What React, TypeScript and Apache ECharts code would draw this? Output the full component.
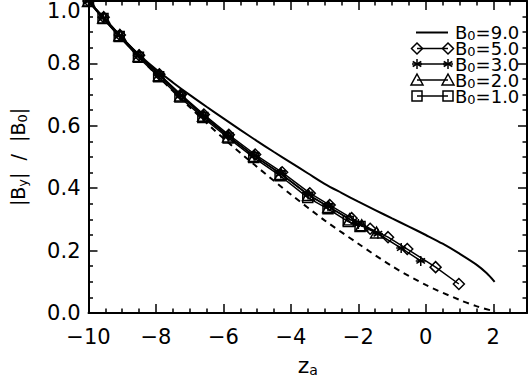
import React, { useEffect, useRef } from 'react';
import * as echarts from 'echarts';

// ---- data ----
const xB1 = [-10, -9.57, -9.09, -8.52, -7.92, -7.29, -6.61, -5.86, -5.1, -4.32, -3.5, -2.9, -2.3, -1.95];
const yB1 = [1.0, 0.944, 0.886, 0.82, 0.757, 0.692, 0.627, 0.561, 0.498, 0.44, 0.37, 0.334, 0.293, 0.277];

const xB2 = [-10, -9.55, -9.07, -8.5, -7.9, -7.27, -6.59, -5.85, -5.08, -4.3, -3.48, -2.88, -2.26, -1.9, -1.46];
const yB2 = [1.0, 0.947, 0.89, 0.824, 0.762, 0.697, 0.632, 0.566, 0.503, 0.446, 0.378, 0.34, 0.3, 0.281, 0.258];

const xB3 = [-10, -9.56, -9.08, -8.5, -7.9, -7.27, -6.6, -5.86, -5.09, -4.3, -3.49, -2.9, -2.0, -1.42, -0.73, -0.15];
const yB3 = [1.0, 0.946, 0.889, 0.824, 0.762, 0.697, 0.632, 0.567, 0.504, 0.447, 0.38, 0.342, 0.285, 0.254, 0.208, 0.167];

const xB5 = [-10, -9.55, -9.07, -8.5, -7.9, -7.26, -6.58, -5.84, -5.06, -4.26, -3.44, -2.85, -2.2, -1.65, -1.12, -0.55, 0.29, 0.98];
const yB5 = [1.0, 0.948, 0.891, 0.826, 0.765, 0.7, 0.636, 0.571, 0.508, 0.451, 0.384, 0.346, 0.304, 0.27, 0.243, 0.205, 0.147, 0.093];

const xB9 = [-10, -9.5, -9, -8.5, -8, -7.5, -7, -6.5, -6, -5.5, -5, -4.5, -4, -3.5, -3, -2.5, -2, -1.5, -1, -0.5, 0, 0.5, 1, 1.5, 1.8, 2.04];
const yB9 = [1.0, 0.937, 0.88, 0.828, 0.781, 0.739, 0.699, 0.661, 0.624, 0.587, 0.551, 0.516, 0.482, 0.448, 0.414, 0.385, 0.357, 0.33, 0.303, 0.277, 0.25, 0.222, 0.19, 0.155, 0.128, 0.1];

const xDash = [-10, -9, -8, -7, -6, -5, -4, -3, -2, -1, 0, 1, 1.5, 2, 2.05];
const yDash = [1.0, 0.878, 0.765, 0.66, 0.56, 0.468, 0.38, 0.297, 0.222, 0.15, 0.09, 0.042, 0.022, 0.006, 0.004];

const legendLabels = ['9.0', '5.0', '3.0', '2.0', '1.0'];
const xTicks = { min: -10, max: 3, interval: 2 };
const yTicks = { min: 0, max: 1, interval: 0.2 };

const FONT = "'DejaVu Sans', 'Liberation Sans', Arial, sans-serif";
const BLACK = '#000';
const ASTERISK = 'path://M5,0L5,10M0.7,2.5L9.3,7.5M0.7,7.5L9.3,2.5M0,5L10,5';

const pairs = (xs: number[], ys: number[]) => xs.map((x, i) => [x, ys[i]]);
const fmtMinus = (s: string) => s.replace('-', '\u2212');

export default function App() {
  const ref = useRef<HTMLDivElement>(null);

  useEffect(() => {
    if (!ref.current) return;
    const chart = echarts.init(ref.current, null, { renderer: 'svg' });

    const axisCommon: any = {
      type: 'value',
      axisLine: { show: true, onZero: false, lineStyle: { color: BLACK, width: 2 } },
      axisTick: { show: true, inside: true, length: 9, lineStyle: { color: BLACK, width: 1.5 } },
      minorTick: { show: true, splitNumber: 4, length: 4.5, lineStyle: { color: BLACK, width: 1.5 } },
      splitLine: { show: false },
      minorSplitLine: { show: false },
    };

    const symStyle = { color: 'rgba(0,0,0,0)', borderColor: BLACK, borderWidth: 1.5 };
    const markerSeries = (name: string, xs: number[], ys: number[], symbol: string, size: any) => ({
      name,
      type: 'line',
      data: pairs(xs, ys),
      symbol,
      symbolSize: size,
      showSymbol: true,
      lineStyle: { color: BLACK, width: 1.5 },
      itemStyle: symStyle,
      emphasis: { disabled: true },
      z: 3,
    });

    // legend drawn as graphic
    const rowsY = [32.5, 48.5, 64, 80, 96];
    const lx0 = 417;
    const lx1 = 448;
    const legendGraphics: any[] = [];
    const stroke = { fill: 'none', stroke: BLACK, lineWidth: 1.5 };
    const drawSym = (kind: string, cx: number, cy: number) => {
      if (kind === 'rect') {
        legendGraphics.push({ type: 'rect', shape: { x: cx - 5, y: cy - 5, width: 10, height: 10 }, style: stroke });
      } else if (kind === 'triangle') {
        legendGraphics.push({ type: 'polygon', shape: { points: [[cx, cy - 6], [cx + 6, cy + 5], [cx - 6, cy + 5]] }, style: stroke });
      } else if (kind === 'diamond') {
        legendGraphics.push({ type: 'polygon', shape: { points: [[cx, cy - 5.5], [cx + 5.5, cy], [cx, cy + 5.5], [cx - 5.5, cy]] }, style: stroke });
      } else if (kind === 'asterisk') {
        const r = 5;
        [[0, -r, 0, r], [-r, 0, r, 0], [-4.3, -2.5, 4.3, 2.5], [-4.3, 2.5, 4.3, -2.5]].forEach(([a, b, c, d]) => {
          legendGraphics.push({ type: 'line', shape: { x1: cx + a, y1: cy + b, x2: cx + c, y2: cy + d }, style: { stroke: BLACK, lineWidth: 1.5 } });
        });
      }
    };
    const kinds = ['none', 'diamond', 'asterisk', 'triangle', 'rect'];
    rowsY.forEach((cy, i) => {
      const k = kinds[i];
      legendGraphics.push({
        type: 'line',
        shape: { x1: k === 'none' ? lx0 - 1 : lx0, y1: cy, x2: lx1, y2: cy },
        style: { stroke: BLACK, lineWidth: k === 'none' ? 2 : 1.5 },
      });
      if (k !== 'none') {
        drawSym(k, lx0, cy);
        drawSym(k, lx1, cy);
      }
      legendGraphics.push({
        type: 'text',
        x: 455,
        y: cy,
        style: {
          text: '{b|B}{s|0}{b|=' + legendLabels[i] + '}',
          verticalAlign: 'middle',
          align: 'left',
          fill: BLACK,
          rich: {
            b: { fontSize: 18, lineHeight: 15, fontFamily: FONT, fill: BLACK },
            s: { fontSize: 13, lineHeight: 9, fontFamily: FONT, fill: BLACK, padding: [6, 0, 0, 0] },
          },
        },
      });
    });

    const option: any = {
      animation: false,
      backgroundColor: '#fff',
      grid: { left: 82, right: 2, top: 1, bottom: 65, containLabel: false },
      xAxis: [
        {
          ...axisCommon,
          position: 'bottom',
          ...xTicks,
          axisLabel: {
            show: true,
            color: BLACK,
            fontSize: 21,
            fontFamily: FONT,
            margin: 13,
            formatter: (v: number) => (Math.abs(v % 2) < 1e-9 ? fmtMinus(String(v)) : ''),
          },
          name: '{z|z}{s|a}',
          nameLocation: 'middle',
          nameGap: 41,
          nameTextStyle: {
            rich: {
              z: { fontSize: 22, fontFamily: FONT, color: BLACK },
              s: { fontSize: 14, fontFamily: FONT, color: BLACK, padding: [9, 0, 0, 0] },
            },
          },
        },
        {
          ...axisCommon,
          position: 'top',
          ...xTicks,
          axisLabel: { show: false },
        },
      ],
      yAxis: [
        {
          ...axisCommon,
          position: 'left',
          ...yTicks,
          axisLabel: {
            show: true,
            color: BLACK,
            fontSize: 21,
            fontFamily: FONT,
            margin: 8,
            formatter: (v: number) => (Math.abs(v - 1) < 1e-9 ? '{t|1.0}' : v.toFixed(1)),
            rich: {
              t: { fontSize: 21, fontFamily: FONT, color: BLACK, padding: [20, 0, 0, 0] },
            },
          },
          name: '|B{s|y}|  /  |B{s|0}|',
          nameLocation: 'middle',
          nameGap: 60,
          nameTextStyle: {
            fontSize: 19,
            fontFamily: FONT,
            color: BLACK,
            rich: {
              s: { fontSize: 13, fontFamily: FONT, color: BLACK, padding: [9, 0, 0, 0] },
            },
          },
        },
        {
          ...axisCommon,
          position: 'right',
          ...yTicks,
          axisLabel: { show: false },
        },
      ],
      series: [
        {
          name: 'ref',
          type: 'line',
          data: pairs(xDash, yDash),
          showSymbol: false,
          symbol: 'none',
          smooth: 0.3,
          lineStyle: { color: BLACK, width: 2, type: [6, 5] },
          emphasis: { disabled: true },
          z: 2,
        },
        {
          name: 'B0=9.0',
          type: 'line',
          data: pairs(xB9, yB9),
          showSymbol: false,
          symbol: 'none',
          smooth: 0.3,
          lineStyle: { color: BLACK, width: 2 },
          emphasis: { disabled: true },
          z: 2,
        },
        markerSeries('B0=5.0', xB5, yB5, 'diamond', [11, 11]),
        markerSeries('B0=3.0', xB3, yB3, ASTERISK, [10, 10]),
        markerSeries('B0=2.0', xB2, yB2, 'triangle', [12, 11]),
        markerSeries('B0=1.0', xB1, yB1, 'rect', [10, 10]),
      ],
      graphic: legendGraphics,
    };

    chart.setOption(option);
    return () => chart.dispose();
  }, []);

  return <div ref={ref} style={{ width: 530, height: 382, position: 'absolute', left: 0, top: 0 }} />;
}
